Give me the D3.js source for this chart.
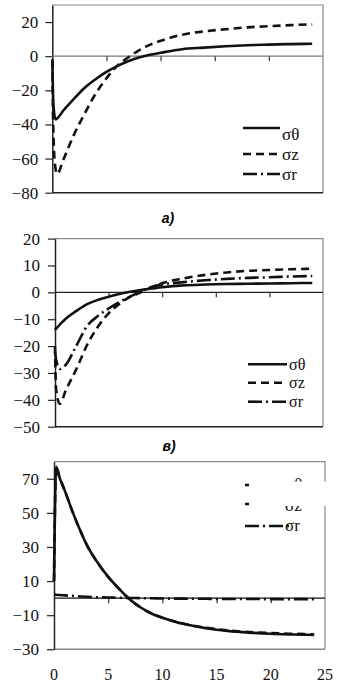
<!DOCTYPE html>
<html>
<head>
<meta charset="utf-8">
<script src="https://cdn.jsdelivr.net/npm/d3@7"></script>
<style>
  body { margin: 0; background: #fff; }
</style>
</head>
<body>
<script>
// ---- data ----
const legendNames = ["σθ", "σz", "σr"];
const xTicks = [5, 10, 15, 20];
const xLabels = [0, 5, 10, 15, 20, 25];

// panel a)
const xA = [0, 0.1, 0.3, 0.45, 1, 2, 3, 4, 5, 6, 7, 8, 9, 10, 12, 14, 16, 18, 20, 22, 24];
const aTheta = [-2, -28, -37, -36.5, -32, -25, -18.5, -13.5, -9.2, -5.8, -3, -0.8, 0.8, 2, 4.1, 5, 5.8, 6.4, 6.8, 7.1, 7.3];
const aZ = [-2, -45, -66, -69, -61, -46, -33.5, -22, -13, -5.6, -0.8, 3.4, 6.6, 9, 12.6, 14.5, 15.8, 16.9, 17.6, 18.2, 18.7];
const aTicks = [-80, -60, -40, -20, 0, 20];

// panel в)
const xB = [0, 0.1, 0.45, 1, 2, 3, 4, 5, 6, 7, 8, 9, 10, 12, 14, 16, 18, 20, 22, 24];
const bTheta = [-14, -13.5, -12, -9.8, -6.9, -4.4, -2.8, -1.6, -0.6, 0.2, 0.9, 1.4, 1.9, 2.6, 2.9, 3.1, 3.2, 3.3, 3.4, 3.5];
const bZ = [-20, -36, -41.5, -36.5, -28.5, -19.5, -12.8, -7.8, -4.3, -1.7, 0, 1.8, 3.4, 5.2, 6.5, 7.4, 8, 8.3, 8.6, 8.8];
const bR = [-22, -25, -28.5, -27, -19.8, -12.5, -8.8, -6, -3.6, -1.6, 0.2, 2, 2.9, 3.8, 4.5, 5, 5.4, 5.6, 5.9, 6.1];
const bTicks = [-50, -40, -30, -20, -10, 0, 10, 20];

// third panel
const xC = [0, 0.2, 0.5, 1, 1.75, 2.5, 3, 4, 5, 6, 7, 8, 9, 10, 11, 12, 13, 14, 15, 16, 18, 20, 22, 24];
const cTheta = [10, 77, 71, 63, 50, 38.5, 31.5, 21, 12.5, 5.5, -0.8, -5.5, -9, -11.5, -13.5, -15.2, -16.5, -17.6, -18.5, -19.2, -20.2, -20.9, -21.3, -21.6];
const cZ = [10, 77, 71, 63, 50, 38.5, 31.5, 21, 12.5, 5.5, -0.8, -5.5, -9, -11.5, -13.4, -15, -16.3, -17.3, -18.2, -18.9, -19.9, -20.5, -20.9, -21.2];
const cR = [2.2, 2, 1.8, 1.6, 1.3, 1, 0.8, 0.5, 0.35, 0.2, 0.1, 0, -0.1, -0.2, -0.3, -0.3, -0.4, -0.4, -0.5, -0.5, -0.5, -0.6, -0.6, -0.6];
const cTicks = [-30, -10, 10, 30, 50, 70];

const serif = "'Liberation Serif', 'Times New Roman', serif";
const styles = {
  theta: null,
  z: "8,5",
  r: "14,4,2,4"
};

const svg = d3.select("body")
  .append("svg")
  .attr("width", 338)
  .attr("height", 684);

function drawPanel(p) {
  const x = d3.scaleLinear().domain([0, 25]).range([p.left, p.right]);
  const y = d3.scaleLinear().domain(p.yDomain).range([p.bottom, p.top]);
  const g = svg.append("g");

  // plot frame (top + right)
  g.append("path")
    .attr("d", `M${p.left},${p.top}H${p.right}V${p.bottom}`)
    .attr("fill", "none")
    .attr("stroke", "#8a8a8a")
    .attr("stroke-width", 1.2);

  // bottom edge
  g.append("line")
    .attr("x1", p.left).attr("x2", p.right)
    .attr("y1", p.bottom).attr("y2", p.bottom)
    .attr("stroke", p.bottomColor)
    .attr("stroke-width", 1.4);

  // y axis
  const yAxis = g.append("g")
    .attr("transform", `translate(${p.left},0)`)
    .call(d3.axisLeft(y).tickValues(p.yTicks).tickSize(7).tickSizeOuter(0).tickPadding(p.pad));
  yAxis.select(".domain").attr("stroke", "#222").attr("stroke-width", 1.5);
  yAxis.selectAll(".tick line").attr("stroke", "#222").attr("stroke-width", 1.2);
  yAxis.selectAll("text")
    .style("font-family", serif)
    .style("font-size", p.fontSize + "px")
    .attr("fill", "#111");

  // x axis along zero
  const xAxis = g.append("g")
    .attr("transform", `translate(0,${y(0)})`)
    .call(d3.axisBottom(x).tickValues(xTicks).tickSize(5).tickSizeOuter(0).tickFormat(""));
  xAxis.select(".domain")
    .attr("d", `M${p.left},0H${p.right}`)
    .attr("stroke", p.zeroColor).attr("stroke-width", 1.2);
  xAxis.selectAll(".tick line").attr("stroke", "#333").attr("stroke-width", 1.2);

  // curves
  const line = d3.line()
    .x(d => x(d[0]))
    .y(d => y(d[1]))
    .curve(d3.curveMonotoneX);

  p.series.forEach(s => {
    g.append("path")
      .datum(d3.zip(s.x, s.y))
      .attr("d", line)
      .attr("fill", "none")
      .attr("stroke", "#111")
      .attr("stroke-width", 2.6)
      .attr("stroke-dasharray", styles[s.key]);
  });

  // legend
  const leg = g.append("g");
  ["theta", "z", "r"].forEach((k, i) => {
    leg.append("line")
      .attr("x1", p.legend.x1).attr("x2", p.legend.x2)
      .attr("y1", p.legend.lineY[i]).attr("y2", p.legend.lineY[i])
      .attr("stroke", "#111")
      .attr("stroke-width", 2.6)
      .attr("stroke-dasharray", styles[k]);
    leg.append("text")
      .attr("x", p.legend.textX)
      .attr("y", p.legend.textY[i])
      .style("font-family", serif)
      .style("font-size", p.legend.fontSize + "px")
      .attr("fill", "#111")
      .text(legendNames[i]);
  });

  return { x, y, g };
}

// a)
drawPanel({
  left: 52.3, right: 323, top: 5, bottom: 192.7,
  yDomain: [-80, 30], yTicks: aTicks, fontSize: 17, pad: 7,
  bottomColor: "#222", zeroColor: "#777",
  series: [
    { key: "z", x: xA, y: aZ },
    { key: "theta", x: xA, y: aTheta }
  ],
  legend: { x1: 243, x2: 280, textX: 282, lineY: [128, 154, 174], textY: [140, 160, 180], fontSize: 17 }
});

svg.append("text")
  .attr("x", 168).attr("y", 223)
  .attr("text-anchor", "middle")
  .style("font-family", "'Liberation Sans', Arial, sans-serif")
  .style("font-weight", "bold")
  .style("font-style", "italic")
  .style("font-size", "14px")
  .text("a)");

// в)
drawPanel({
  left: 55, right: 323, top: 238.6, bottom: 426.7,
  yDomain: [-50, 20], yTicks: bTicks, fontSize: 17, pad: 8,
  bottomColor: "#222", zeroColor: "#222",
  series: [
    { key: "z", x: xB, y: bZ },
    { key: "r", x: xB, y: bR },
    { key: "theta", x: xB, y: bTheta }
  ],
  legend: { x1: 248, x2: 287, textX: 289, lineY: [364.3, 382.7, 401.7], textY: [369.5, 388, 407], fontSize: 16 }
});

svg.append("text")
  .attr("x", 169).attr("y", 451)
  .attr("text-anchor", "middle")
  .style("font-family", "'Liberation Sans', Arial, sans-serif")
  .style("font-weight", "bold")
  .style("font-style", "italic")
  .style("font-size", "14px")
  .text("в)");

// third panel
const pc = drawPanel({
  left: 54, right: 325, top: 461.7, bottom: 649.3,
  yDomain: [-30, 80], yTicks: cTicks, fontSize: 17, pad: 8,
  bottomColor: "#8a8a8a", zeroColor: "#111",
  series: [
    { key: "r", x: xC, y: cR },
    { key: "z", x: xC, y: cZ },
    { key: "theta", x: xC, y: cTheta }
  ],
  legend: { x1: 245, x2: 290, textX: 285, lineY: [485, 504, 526], textY: [490, 511, 531], fontSize: 17 }
});

// white patch that hides part of the legend in the source picture
pc.g.append("rect")
  .attr("x", 249).attr("y", 481.5)
  .attr("width", 89).attr("height", 24.5)
  .attr("fill", "#fff");

// x labels under the last panel
svg.append("g")
  .selectAll("text")
  .data(xLabels)
  .join("text")
  .attr("x", d => pc.x(d))
  .attr("y", 679.5)
  .attr("text-anchor", "middle")
  .style("font-family", serif)
  .style("font-size", "16px")
  .attr("fill", "#111")
  .text(d => d);
</script>
</body>
</html>
